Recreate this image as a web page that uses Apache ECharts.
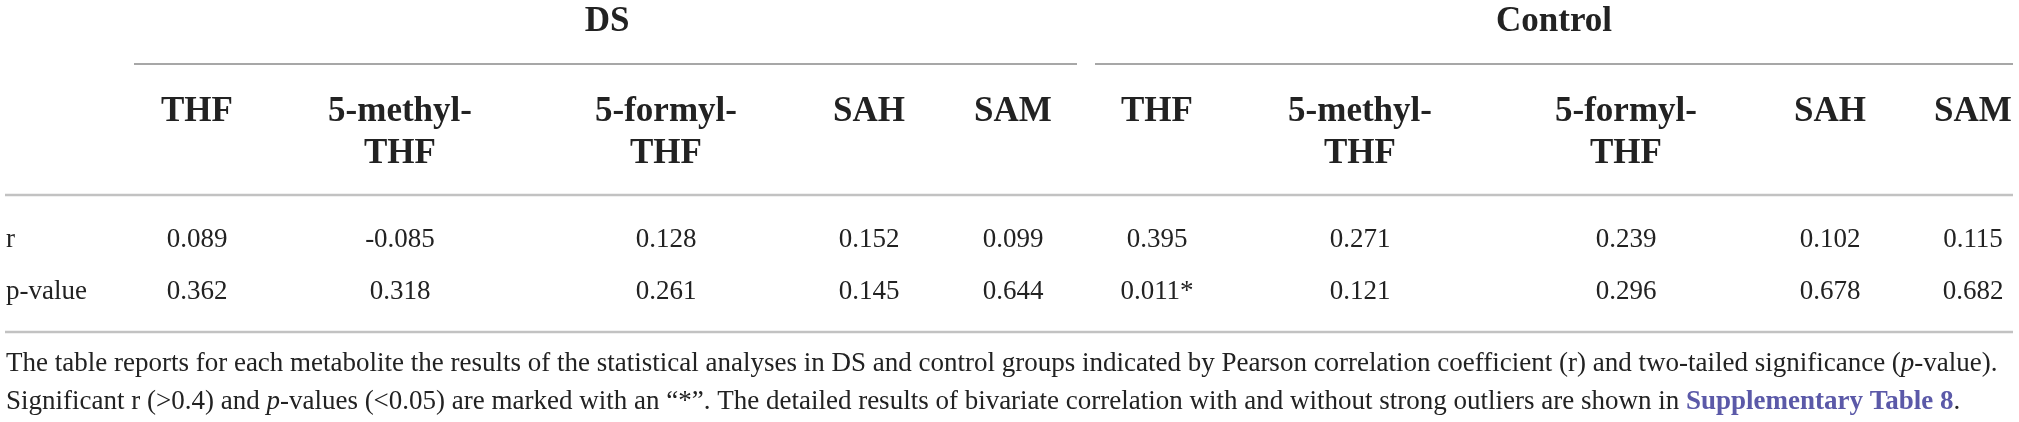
<!DOCTYPE html>
<html>
<head>
<meta charset="utf-8">
<script src="https://cdn.jsdelivr.net/npm/echarts@6/dist/echarts.min.js"></script>
<style>
  html, body { margin: 0; padding: 0; background: #fff; }
  #main { width: 2019px; height: 422px; }
</style>
</head>
<body>
<div id="main"></div>
<script>
// data
var groups = ['DS', 'Control'];
var metabolites = ['THF', '5-methyl-\nTHF', '5-formyl-\nTHF', 'SAH', 'SAM'];
var rowLabels = ['r', 'p-value'];
var dsR = [0.089, -0.085, 0.128, 0.152, 0.099];
var dsP = [0.362, 0.318, 0.261, 0.145, 0.644];
var ctrlR = [0.395, 0.271, 0.239, 0.102, 0.115];
var ctrlP = [0.011, 0.121, 0.296, 0.678, 0.682];

// layout (pixel units of the hidden value axes)
var groupX = [607, 1554];
var colX = [[197, 400, 666, 869, 1013], [1157, 1360, 1626, 1830, 1973]];
var rowY = [240, 292];
var titleY = 21.5, headY = 90.5, labelX = 6;

var ink = '#222';
var serif = '"Liberation Serif", "Times New Roman", serif';

// significant r (>0.4) and p (<0.05) get a "*"
function fmtR(v) { return v.toFixed(3) + (v > 0.4 ? '*' : ''); }
function fmtP(v) { return v.toFixed(3) + (v < 0.05 ? '*' : ''); }

var cells = [];
groups.forEach(function (g, gi) {
  cells.push({ x: groupX[gi], y: titleY, text: g, kind: 'title' });
  var rs = gi === 0 ? dsR : ctrlR;
  var ps = gi === 0 ? dsP : ctrlP;
  metabolites.forEach(function (m, mi) {
    cells.push({ x: colX[gi][mi], y: headY, text: m, kind: 'head' });
    cells.push({ x: colX[gi][mi], y: rowY[0], text: fmtR(rs[mi]), kind: 'val' });
    cells.push({ x: colX[gi][mi], y: rowY[1], text: fmtP(ps[mi]), kind: 'val' });
  });
});
rowLabels.forEach(function (l, i) {
  cells.push({ x: labelX, y: rowY[i], text: l, kind: 'row' });
});

var chart = echarts.init(document.getElementById('main'));

var option = {
  animation: false,
  grid: { left: 0, right: 0, top: 0, bottom: 0 },
  xAxis: { type: 'value', min: 0, max: 2019, show: false },
  yAxis: { type: 'value', min: 0, max: 422, inverse: true, show: false },
  series: [{
    type: 'custom',
    data: cells.map(function (c, i) { return [c.x, c.y, i]; }),
    renderItem: function (params, api) {
      var c = cells[api.value(2)];
      var p = api.coord([api.value(0), api.value(1)]);
      var bold = c.kind === 'title' || c.kind === 'head';
      return {
        type: 'text',
        x: p[0],
        y: p[1],
        style: {
          text: c.text,
          fill: ink,
          fontFamily: serif,
          fontWeight: bold ? 'bold' : 'normal',
          fontSize: bold ? 35 : 27,
          lineHeight: c.kind === 'head' ? 42 : undefined,
          align: c.kind === 'row' ? 'left' : 'center',
          verticalAlign: c.kind === 'head' ? 'top' : 'middle'
        }
      };
    }
  }],
  graphic: [
    // rules
    { type: 'line', shape: { x1: 134, y1: 64, x2: 1077, y2: 64 }, style: { stroke: '#8a8a8a', lineWidth: 1.5 } },
    { type: 'line', shape: { x1: 1095, y1: 64, x2: 2013, y2: 64 }, style: { stroke: '#8a8a8a', lineWidth: 1.5 } },
    { type: 'line', shape: { x1: 5, y1: 195, x2: 2013, y2: 195 }, style: { stroke: '#c2c2c2', lineWidth: 2.5 } },
    { type: 'line', shape: { x1: 5, y1: 332, x2: 2013, y2: 332 }, style: { stroke: '#c2c2c2', lineWidth: 2.5 } },
    // footnote
    {
      type: 'text', x: 6, y: 364,
      style: {
        text: 'The table reports for each metabolite the results of the statistical analyses in DS and control groups indicated by Pearson correlation coefficient (r) and two-tailed significance ({i|p}-value).',
        fill: ink, fontFamily: serif, fontSize: 27, verticalAlign: 'middle',
        rich: { i: { fontStyle: 'italic', fontFamily: serif, fontSize: 27, fill: ink } }
      }
    },
    {
      type: 'text', x: 6, y: 402,
      style: {
        text: 'Significant r (>0.4) and {i|p}-values (<0.05) are marked with an \u201c*\u201d. The detailed results of bivariate correlation with and without strong outliers are shown in {link|Supplementary Table 8}.',
        fill: ink, fontFamily: serif, fontSize: 27, verticalAlign: 'middle',
        rich: {
          i: { fontStyle: 'italic', fontFamily: serif, fontSize: 27, fill: ink },
          link: { fontWeight: 'bold', fontFamily: serif, fontSize: 27, fill: '#5b59a8' }
        }
      }
    }
  ]
};

chart.setOption(option);
</script>
</body>
</html>
